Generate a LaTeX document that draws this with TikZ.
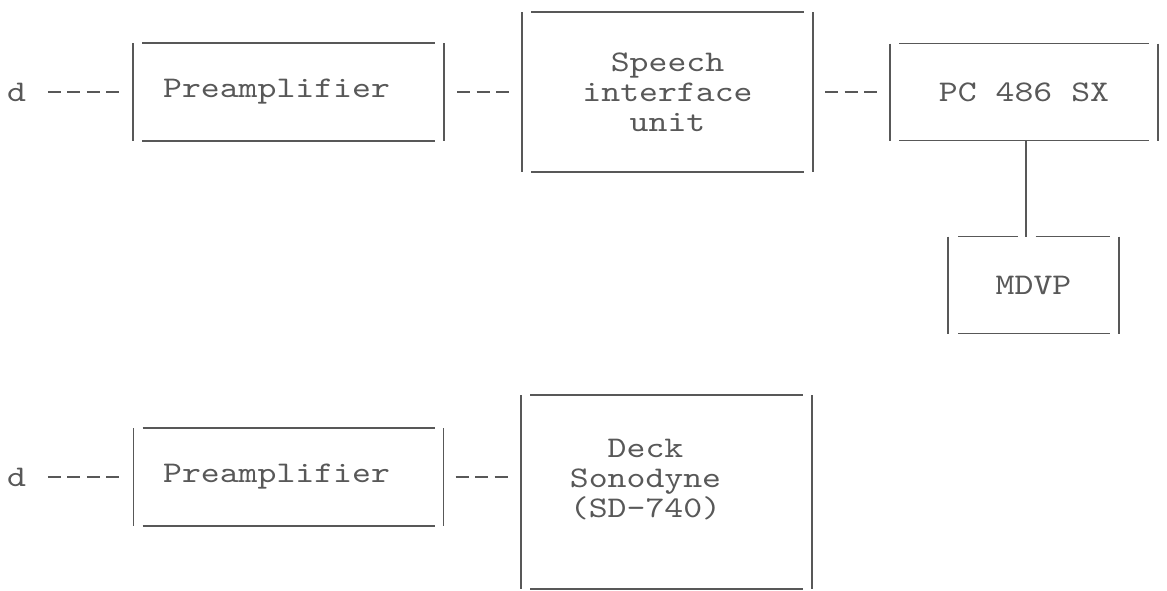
\documentclass[tikz,border=0pt]{standalone}
\usepackage{fontspec}
\usetikzlibrary{positioning}
\newfontfamily\typefont{lmmono10-regular.otf}[FakeStretch=1.2]
\definecolor{ink}{RGB}{88,88,88}

\newcommand{\tbox}[1]{%
  \draw[bar] (#1.north west) -- (#1.south west);
  \draw[bar] (#1.north east) -- (#1.south east);
  \draw[bar] ([xshift=9pt]#1.north west) -- ([xshift=-9pt]#1.north east);
  \draw[bar] ([xshift=9pt]#1.south west) -- ([xshift=-9pt]#1.south east);}

\tikzset{
  unit/.style={inner sep=0pt, outer sep=0pt, align=center, text=ink,
    font=\typefont\fontsize{30}{30}\selectfont},
  bar/.style={draw=ink, line width=1.8pt},
  link/.style={bar, dash pattern=on 13pt off 6.5pt},
}

\begin{document}
\begin{tikzpicture}[x=1pt, y=-1pt, node distance=1cm, on grid]
    \useasboundingbox (0,0) rectangle (1167,590);

    \node[unit, minimum width=311pt, minimum height=98pt] (pre1) at (288.5,92) {\hspace*{-24pt}Preamplifier};
    \node[unit, minimum width=291pt, minimum height=160pt] (speech) [right=379pt of pre1] {Speech\\interface\\unit};
    \node[unit, minimum width=268pt, minimum height=97pt] (pc) [right=356.5pt of speech] {PC 486 SX};
    \node[unit, minimum width=171pt, minimum height=97pt] (mdvp) [below=193pt of pc, xshift=9.5pt] {MDVP};
    \node[unit] (d1) [left=272pt of pre1] {d};

    \node[unit, minimum width=310pt, minimum height=98pt] (pre2) [below=385pt of pre1] {\hspace*{-24pt}Preamplifier};
    \node[unit, minimum width=291pt, minimum height=194pt,
      label={[unit, xshift=-21pt, yshift=12pt]center:Deck\\Sonodyne\\(SD-740)}] (deck) [right=378pt of pre2, yshift=-15pt] {};
    \node[unit] (d2) [left=272pt of pre2] {d};

    \tbox{pre1}
    \tbox{speech}
    \tbox{pc}
    \tbox{pre2}
    \tbox{deck}

    \draw[bar] (mdvp.north west) -- (mdvp.south west);
    \draw[bar] (mdvp.north east) -- (mdvp.south east);
    \draw[bar] ([xshift=10pt]mdvp.north west) -- ([xshift=-16pt]mdvp.north);
    \draw[bar] ([xshift=2pt]mdvp.north) -- ([xshift=-9pt]mdvp.north east);
    \draw[bar] ([xshift=10pt]mdvp.south west) -- ([xshift=-9pt]mdvp.south east);

    \draw[link, shorten <=22pt, shorten >=13pt] (d1) -- (pre1);
    \draw[link, shorten <=13pt, shorten >=13pt] (pre1.east) -- (pre1.east -| speech.west);
    \draw[link, shorten <=12pt, shorten >=13pt] (speech.east |- pc.west) -- (pc.west);
    \draw[bar] ([xshift=2pt]pc.south) -- ([xshift=2pt]pc.south |- mdvp.north);

    \draw[link, shorten <=22pt, shorten >=13pt] (d2) -- (pre2);
    \draw[link, shorten <=12pt, shorten >=13pt] (pre2.east) -- (pre2.east -| deck.west);
\end{tikzpicture}
\end{document}
